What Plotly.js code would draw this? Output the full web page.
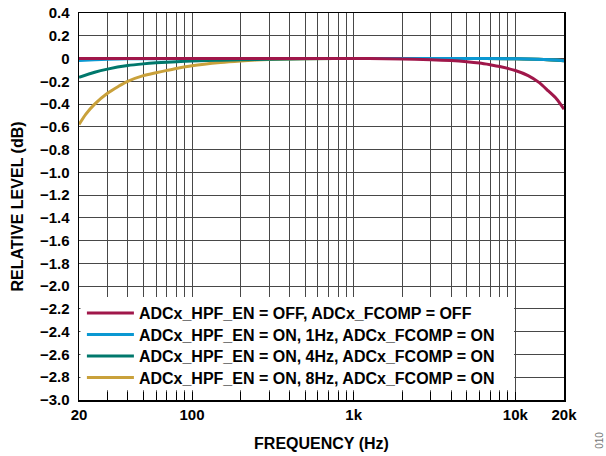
<!DOCTYPE html>
<html>
<head>
<meta charset="utf-8">
<script src="https://cdn.plot.ly/plotly-3.0.1.min.js"></script>
<style>
html,body{margin:0;padding:0;background:#fff;}
#chart{width:606px;height:456px;}
</style>
</head>
<body>
<div id="chart"></div>
<script>
// ---- data ----
const seriesNames = [
  "ADCx_HPF_EN = OFF, ADCx_FCOMP = OFF",
  "ADCx_HPF_EN = ON, 1Hz, ADCx_FCOMP = ON",
  "ADCx_HPF_EN = ON, 4Hz, ADCx_FCOMP = ON",
  "ADCx_HPF_EN = ON, 8Hz, ADCx_FCOMP = ON"
];
const seriesColors = ["#a0174a", "#0a98d2", "#00786c", "#c9a13b"];

const freqOff = [20, 100, 1000, 2000, 3000, 4000, 5000, 6000, 7000, 8000, 10000, 12000, 14000, 16000, 18000, 20000];
const levelOff = [0, 0, 0, -0.004, -0.01, -0.018, -0.028, -0.04, -0.055, -0.07, -0.105, -0.15, -0.21, -0.285, -0.355, -0.445];

const freq1Hz = [20, 25, 30, 40, 60, 100, 1000, 5000, 10000, 12000, 15000, 18000, 20000];
const level1Hz = [-0.018, -0.011, -0.007, -0.003, -0.001, 0, 0, 0, -0.002, -0.004, -0.008, -0.014, -0.019];

const freq4Hz = [20, 25, 30, 40, 50, 60, 70, 80, 100, 150, 200, 300, 500, 1000, 5000, 10000, 15000, 20000];
const level4Hz = [-0.165, -0.12, -0.093, -0.062, -0.047, -0.038, -0.032, -0.028, -0.022, -0.015, -0.011, -0.006, -0.002, 0, 0, -0.002, -0.008, -0.019];

const freq8Hz = [20, 22, 25, 30, 35, 40, 50, 60, 70, 80, 100, 150, 200, 250, 300, 500, 1000, 5000, 10000, 15000, 20000];
const level8Hz = [-0.58, -0.49, -0.4, -0.305, -0.245, -0.2, -0.15, -0.125, -0.104, -0.087, -0.063, -0.035, -0.021, -0.013, -0.009, -0.003, 0, 0, -0.002, -0.008, -0.019];

const xGridVals = [20,30,40,50,60,70,80,90,100,200,300,400,500,600,700,800,900,1000,2000,3000,4000,5000,6000,7000,8000,9000,10000,20000];
const xGridText = ["20","","","","","","","","100","","","","","","","","","1k","","","","","","","","","10k","20k"];

const yTickVals = [0.4,0.2,0,-0.2,-0.4,-0.6,-0.8,-1.0,-1.2,-1.4,-1.6,-1.8,-2.0,-2.2,-2.4,-2.6,-2.8,-3.0];
const yTickText = ["0.4","0.2","0","\u22120.2","\u22120.4","\u22120.6","\u22120.8","\u22121.0","\u22121.2","\u22121.4","\u22121.6","\u22121.8","\u22122.0","\u22122.2","\u22122.4","\u22122.6","\u22122.8","\u22123.0"];

const xs = [freqOff, freq1Hz, freq4Hz, freq8Hz];
const ys = [levelOff, level1Hz, level4Hz, level8Hz];
const legendIds = ["legend", "legend2", "legend3", "legend4"];

// draw order: 8Hz, 4Hz, 1Hz, OFF; each series has its own legend row
const order = [3, 2, 1, 0];
const traces = order.map(i => ({
  x: xs[i], y: ys[i], name: seriesNames[i], type: "scatter", mode: "lines",
  legend: legendIds[i],
  line: {color: seriesColors[i], width: 3, shape: "spline", smoothing: 0.8},
  hoverinfo: "skip"
}));

const FONT = "Arial, 'Liberation Sans', sans-serif";
const legendFont = {family: FONT, size: 16, color: "#000", weight: "bold"};
const rowY = [0.2248, 0.1693, 0.1137, 0.0581];
function legendAt(y) {
  return {x: 0.006, y: y, xanchor: "left", yanchor: "middle",
          bgcolor: "rgba(0,0,0,0)", borderwidth: 0, itemwidth: 47,
          font: legendFont};
}

const layout = {
  width: 606, height: 456,
  margin: {l: 79, r: 42, t: 13, b: 56, pad: 0},
  paper_bgcolor: "#fff", plot_bgcolor: "#fff",
  font: {family: FONT, color: "#000", size: 15, weight: "bold"},
  showlegend: true,
  legend: legendAt(rowY[0]),
  legend2: legendAt(rowY[1]),
  legend3: legendAt(rowY[2]),
  legend4: legendAt(rowY[3]),
  xaxis: {
    type: "log", range: [Math.log10(20), Math.log10(20000)],
    tickmode: "array", tickvals: xGridVals, ticktext: xGridText,
    ticks: "inside", ticklen: 8, tickcolor: "#000", tickwidth: 1,
    showgrid: true, gridcolor: "#484848", gridwidth: 1,
    showline: true, linecolor: "#000", linewidth: 1.5, mirror: true,
    zeroline: false,
    tickfont: {family: FONT, size: 15, color: "#000", weight: "bold"},
    title: {text: "FREQUENCY (Hz)", font: {family: FONT, size: 16, color: "#000", weight: "bold"}, standoff: 16}
  },
  yaxis: {
    range: [-3.0, 0.4],
    tickmode: "array", tickvals: yTickVals, ticktext: yTickText,
    ticks: "", ticklabelstandoff: 5,
    showgrid: true, gridcolor: "#484848", gridwidth: 1,
    showline: true, linecolor: "#000", linewidth: 1.5, mirror: true,
    zeroline: false,
    tickfont: {family: FONT, size: 15, color: "#000", weight: "bold"},
    title: {text: "RELATIVE LEVEL (dB)", font: {family: FONT, size: 16, color: "#000", weight: "bold"}, standoff: 12}
  },
  shapes: [{
    type: "rect", layer: "above", xref: "paper", yref: "paper",
    x0: 0.003, x1: 0.897, y0: 0.025, y1: 0.266,
    fillcolor: "#fff", line: {width: 0}
  }],
  annotations: [{
    text: "010", xref: "paper", yref: "paper", x: 1.074, y: -0.103,
    xanchor: "center", yanchor: "middle",
    showarrow: false, textangle: -90,
    font: {family: FONT, size: 10, color: "#777", weight: "normal"}
  }]
};

Plotly.newPlot("chart", traces, layout, {displayModeBar: false, staticPlot: true});
</script>
</body>
</html>
